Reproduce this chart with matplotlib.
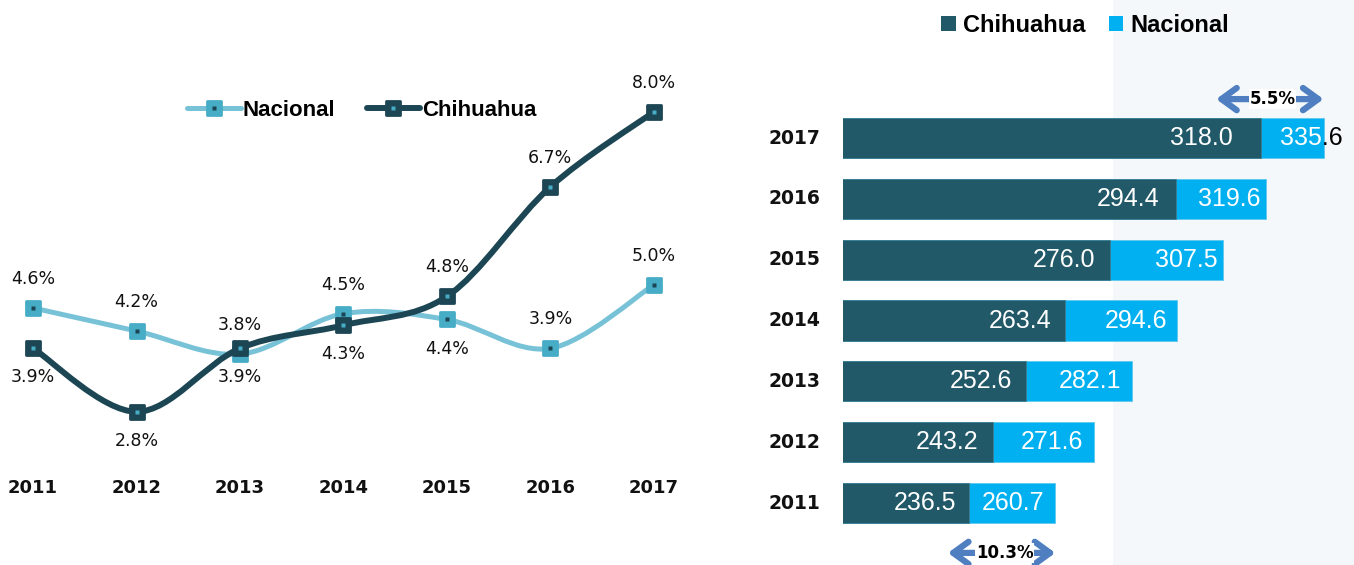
import numpy as np
import matplotlib
matplotlib.use("Agg")
import matplotlib.pyplot as plt
from matplotlib.path import Path
from matplotlib.patches import PathPatch, Patch, Rectangle
from matplotlib.lines import Line2D
from matplotlib.markers import MarkerStyle
from matplotlib.legend_handler import HandlerTuple
from matplotlib.transforms import Bbox, TransformedBbox

# ============================== data =========================================

years = [2011, 2012, 2013, 2014, 2015, 2016, 2017]

# growth rates (line chart, %)
nacional_pct = [4.6, 4.2, 3.8, 4.5, 4.4, 3.9, 5.0]
chihuahua_pct = [3.9, 2.8, 3.9, 4.3, 4.8, 6.7, 8.0]
# label side: +1 above the point, -1 below
nacional_side = [1, 1, 1, 1, -1, 1, 1]
chihuahua_side = [-1, -1, -1, -1, 1, 1, 1]

# levels (bar chart)
chihuahua_val = [236.5, 243.2, 252.6, 263.4, 276.0, 294.4, 318.0]
nacional_val = [260.7, 271.6, 282.1, 294.6, 307.5, 319.6, 335.6]

# gap arrows: (year index, label)
gap_years = [6, 0]
gap_labels = ["5.5%", "10.3%"]

# ============================== styles =======================================

W, H = 1354, 565
C_NAC_LINE = "#77c2d7"
C_NAC_MARK = "#47acc6"
C_CHI_LINE = "#1d4654"
C_CHI_BAR = "#215968"
C_NAC_BAR = "#00b0f0"
C_ARROW = "#4f7fc0"
C_PANEL = "#f4f8fa"
FONT = "Liberation Sans"
NUMFONT = "DejaVu Sans"

plt.rcParams["font.family"] = [FONT, "DejaVu Sans"]


def smooth_path(x, y):
    # Bezier smoothing through the data points (like Excel "smoothed line")
    pts = np.column_stack([x, y]).astype(float)
    n = len(pts)
    verts = [pts[0]]
    codes = [Path.MOVETO]
    for i in range(n - 1):
        p0 = pts[max(i - 1, 0)]
        p1 = pts[i]
        p2 = pts[i + 1]
        p3 = pts[min(i + 2, n - 1)]
        verts += [p1 + (p2 - p0) / 6.0, p2 - (p3 - p1) / 6.0, p2]
        codes += [Path.CURVE4] * 3
    return Path(verts, codes)


def px(x0, y0, x1, y1):
    # pixel box (top-left origin) -> figure fraction rect
    return [x0 / W, 1 - y1 / H, (x1 - x0) / W, (y1 - y0) / H]


def main():
    fig = plt.figure(figsize=(W / 100, H / 100), dpi=100)

    # light panel at the right
    fig.patches.append(Rectangle((1113 / W, 0), 1 - 1113 / W, 1,
                                 transform=fig.transFigure,
                                 facecolor=C_PANEL, edgecolor="none", zorder=-10))

    # ---------------------------- line chart --------------------------------
    ax = fig.add_axes(px(0, 60, 690, 470))
    ax.set_xlim(2010.68, 2017.35)
    ax.set_ylim(1.79, 8.9)
    ax.axis("off")

    mk = MarkerStyle("s", joinstyle="round")
    series = [
        (nacional_pct, nacional_side, C_NAC_LINE, C_NAC_MARK, C_CHI_LINE, 3.6, 2),
        (chihuahua_pct, chihuahua_side, C_CHI_LINE, C_CHI_LINE, C_NAC_MARK, 4.3, 3),
    ]
    handles = []
    for vals, side, lc, mc, dc, lw, z in series:
        ax.add_patch(PathPatch(smooth_path(years, vals), fill=False, edgecolor=lc,
                               lw=lw, capstyle="round", joinstyle="round", zorder=z))
        ax.plot(years, vals, ls="none", marker=mk, ms=10, mfc=mc, mec=mc,
                mew=2, zorder=z + 0.1)
        ax.plot(years, vals, ls="none", marker="s", ms=2.8, mfc=dc, mec="none",
                zorder=z + 0.2)
        for xv, yv, s in zip(years, vals, side):
            ax.annotate("{0:.1f}%".format(yv), (xv, yv), xytext=(0, 21 * s),
                        textcoords="offset points", ha="center", va="center",
                        fontsize=12.5, family=NUMFONT, color="#111111", zorder=6)
        h_line = Line2D([], [], color=lc, lw=lw, marker=mk, ms=10, mfc=mc,
                        mec=mc, mew=2, solid_capstyle="round")
        h_dot = Line2D([], [], ls="none", marker="s", ms=2.8, mfc=dc, mec="none")
        handles.append((h_line, h_dot))

    for yr in years:
        ax.annotate(str(yr), (yr, 1.79), xytext=(0, -13), textcoords="offset points",
                    ha="center", va="center", fontsize=13, fontweight="bold",
                    family=NUMFONT, color="#111111", annotation_clip=False)

    fig.legend(handles, ["Nacional", "Chihuahua"],
               handler_map={tuple: HandlerTuple(ndivide=1, pad=0)},
               loc="center", bbox_to_anchor=(362 / W, 1 - 110 / H), ncol=2,
               frameon=False, handlelength=2.4, handletextpad=0.1,
               columnspacing=1.4, prop={"family": FONT, "size": 16, "weight": "bold"})

    # ---------------------------- bar chart ---------------------------------
    bx = fig.add_axes(px(843, 0, W, H))
    bx.set_xlim(201.4, 344.1)
    bx.set_ylim(-1.019, 8.269)
    bx.axis("off")
    bx.patch.set_alpha(0)

    ypos = np.arange(len(years))
    nac_bars = bx.barh(ypos, nacional_val, height=0.66, color=C_NAC_BAR,
                       edgecolor="#5fc8ee", lw=0.6, zorder=1)
    bx.barh(ypos, chihuahua_val, height=0.66, color=C_CHI_BAR,
            edgecolor="#3d7f93", lw=0.6, zorder=2)

    chi_dx = [-9, -10, -10, -10, -11, -12, -20]
    nac_dx = [-8, -8, -8, -7, -4, -4, 14]
    for i, yr in enumerate(years):
        bx.text(-0.045, ypos[i], str(yr), transform=bx.get_yaxis_transform(),
                ha="right", va="center", fontsize=13.5, fontweight="bold",
                family=NUMFONT, color="#111111", clip_on=False)
        bx.annotate("{0:.1f}".format(chihuahua_val[i]), (chihuahua_val[i], ypos[i]),
                    xytext=(chi_dx[i], 0), textcoords="offset points", ha="right",
                    va="center", fontsize=18, color="white", zorder=5)
        # nacional label: white over the bar, black where it sticks out
        bar_box = TransformedBbox(nac_bars[i].get_bbox(), bx.transData)
        out_box = TransformedBbox(Bbox([[nacional_val[i], ypos[i] - 0.5],
                                        [400, ypos[i] + 0.5]]), bx.transData)
        for col, box in (("white", bar_box), ("black", out_box)):
            t = bx.annotate("{0:.1f}".format(nacional_val[i]), (nacional_val[i], ypos[i]),
                            xytext=(nac_dx[i], 0), textcoords="offset points",
                            ha="right", va="center", fontsize=18, color=col,
                            zorder=5, annotation_clip=False)
            t.set_clip_on(True)
            t.set_clip_box(box)

    # gap arrows
    for idx, lab, dy in zip(gap_years, gap_labels, [0.64, -0.82]):
        end = nacional_val[idx]
        yy = idx + dy
        bx.annotate("", xy=(end, yy), xytext=(end - 30, yy),
                    arrowprops=dict(arrowstyle="<->,head_length=0.55,head_width=0.4",
                                    mutation_scale=20, color=C_ARROW, lw=4.5,
                                    shrinkA=0, shrinkB=0),
                    annotation_clip=False, zorder=6)
        bx.text(end - 15 + 0.8, yy, lab, ha="center", va="center", fontsize=12,
                fontweight="bold", family=NUMFONT, color="black", zorder=7,
                clip_on=False, bbox=dict(facecolor="white", edgecolor="none", pad=0.5))

    fig.legend([Patch(facecolor=C_CHI_BAR), Patch(facecolor=C_NAC_BAR)],
               ["Chihuahua", "Nacional"], loc="center",
               bbox_to_anchor=(1085 / W, 1 - 25 / H), ncol=2, frameon=False,
               handlelength=0.6, handleheight=0.6, handletextpad=0.3,
               columnspacing=1.0, prop={"family": FONT, "size": 17, "weight": "bold"})

    fig.savefig("out.png", dpi=100)


if __name__ == '__main__':
    main()
